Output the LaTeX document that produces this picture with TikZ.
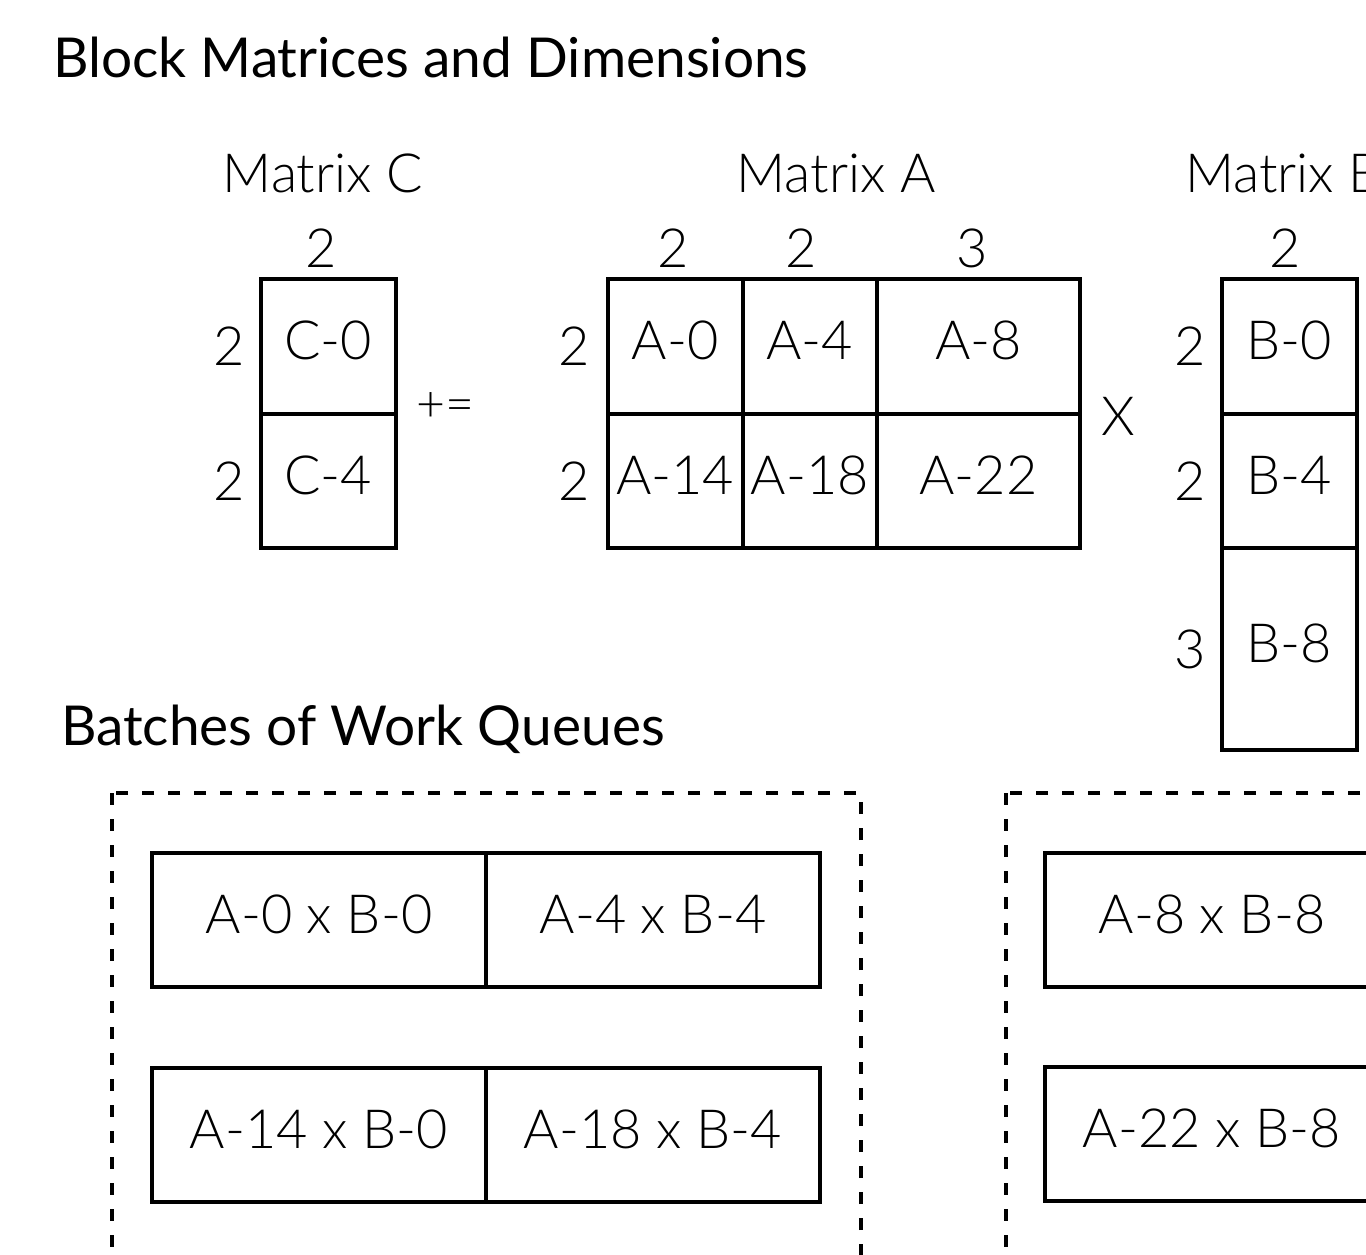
\documentclass[tikz,border=0pt]{standalone}
\usepackage{fontspec}
\setmainfont{Lato}
\newfontfamily\lightfont{Lato Light}
\usetikzlibrary{positioning}

\begin{document}
\begin{tikzpicture}[x=1pt,y=-1pt,
	cell/.style={draw,line width=4pt,inner sep=0pt,outer sep=0pt,
		minimum width=134.5pt,minimum height=134.5pt,
		text height=39pt,text depth=12pt,font=\lightfont\fontsize{54}{60}\selectfont},
	widecell/.style={minimum width=203pt},
	tallcell/.style={minimum height=202pt},
	dim/.style={inner sep=0pt,font=\lightfont\fontsize{54}{60}\selectfont},
	head/.style={inner sep=0pt,anchor=base west,font=\fontsize{55}{66}\selectfont},
	queue/.style={draw,line width=4pt,inner sep=0pt,outer sep=0pt,
		minimum width=334pt,minimum height=134pt,
		text height=39pt,text depth=12pt,font=\lightfont\fontsize{54}{60}\selectfont},
	batch/.style={draw,line width=4pt,dash pattern=on 12pt off 14pt}]
	
	\useasboundingbox (0,0) rectangle (1366,1254);
	\clip (0,0) rectangle (1366,1254);
	
	%%% Заголовки
	\node[head] (title) at (53,77) {Block Matrices and Dimensions};
	\node[head] (queues) at (61,745) {Batches of Work Queues};
	
	%%% Матрицы
	
	% Матрица C
	\node[cell,anchor=north west] (c0) at (261,279) {C-0};
	\node[cell,below=0pt of c0] (c4) {C-4};
	\node[dim,above=11pt of c0,xshift=-7pt] (ccol) {2};
	\node[dim,left=16pt of c0] {2};
	\node[dim,left=16pt of c4] {2};
	\node[dim,anchor=base] at (323,192) {Matrix C};
	
	\node[dim,font=\lightfont\fontsize{50}{56}\selectfont] (plus) at (445,407) {+=};
	
	% Матрица A
	\node[cell,anchor=north west] (a0) at (608,279) {A-0};
	\node[cell,right=0pt of a0] (a4) {A-4};
	\node[cell,widecell,right=0pt of a4] (a8) {A-8};
	\node[cell,below=0pt of a0] (a14) {A-14};
	\node[cell,below=0pt of a4] (a18) {A-18};
	\node[cell,widecell,below=0pt of a8] (a22) {A-22};
	\node[dim,above=11pt of a0,xshift=-2pt] {2};
	\node[dim,above=11pt of a4,xshift=-9pt] {2};
	\node[dim,above=11pt of a8,xshift=-6pt] {3};
	\node[dim,left=18pt of a0] {2};
	\node[dim,left=18pt of a14] {2};
	\node[dim,anchor=base] at (836,192) {Matrix A};
	
	\node[dim] (times) at (1118,416) {X};
	
	% Матрица B
	\node[cell,anchor=north west] (b0) at (1222,279) {B-0};
	\node[cell,below=0pt of b0] (b4) {B-4};
	\node[cell,tallcell,below=0pt of b4] (b8) {B-8};
	\node[dim,above=11pt of b0,xshift=-4pt] {2};
	\node[dim,left=16pt of b0] {2};
	\node[dim,left=16pt of b4] {2};
	\node[dim,left=16pt of b8] {3};
	\node[dim,anchor=base west] at (1185,192) {Matrix B};
	
	%%% Очереди
	
	% Первая пачка
	\draw[batch] (112,793) rectangle (861,1300);
	\node[queue,anchor=north west] (q0) at (152,853) {A-0 x B-0};
	\node[queue,right=0pt of q0] (q4) {A-4 x B-4};
	\node[queue,anchor=north west] (q14) at (152,1068) {A-14 x B-0};
	\node[queue,right=0pt of q14] (q18) {A-18 x B-4};
	
	% Вторая пачка
	\draw[batch] (1006,793) rectangle (1755,1300);
	\node[queue,anchor=north west] (q8) at (1045,853) {A-8 x B-8};
	\node[queue,anchor=north west] (q22) at (1045,1067) {A-22 x B-8};
\end{tikzpicture}
\end{document}
